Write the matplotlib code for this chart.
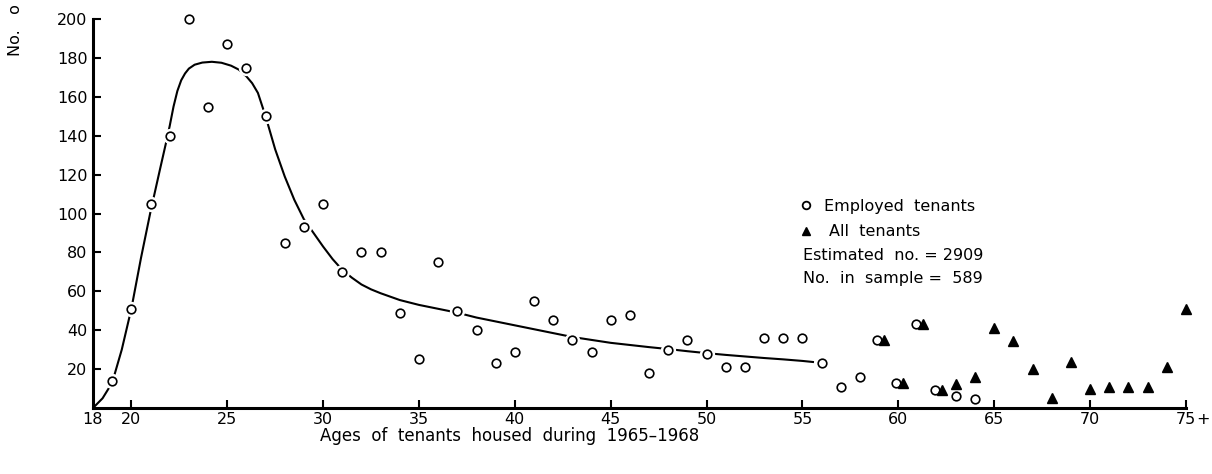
import matplotlib
matplotlib.use("Agg")
import matplotlib.pyplot as plt
from matplotlib.transforms import ScaledTranslation

plt.rcParams['font.family'] = ['DejaVu Sans']

# Employed tenants by age
emp_ages = [19, 20, 21, 22, 23, 24, 25, 26, 27, 28, 29, 30, 31, 32, 33, 34, 35,
            36, 37, 38, 39, 40, 41, 42, 43, 44, 45, 46, 47, 48, 49, 50, 51, 52,
            53, 54, 55, 56, 57, 58, 59, 60, 61, 62, 63, 64]
emp_vals = [14, 51, 105, 140, 200, 155, 187, 175, 150, 85, 93, 105, 70, 80, 80,
            49, 25, 75, 50, 40, 23, 29, 55, 45, 35, 29, 45, 48, 18, 30, 35, 28,
            21, 21, 36, 36, 36, 23, 11, 16, 35, 13, 43, 9, 6, 4.5]

# All tenants, older age groups
all_ages = [59, 60, 61, 62, 63, 64, 65, 66, 67, 68, 69, 70, 71, 72, 73, 74, 75]
all_vals = [35, 13, 43, 9, 12.5, 16, 41, 34.5, 20, 5, 23.5, 10, 11, 11, 11, 21, 51]

# Fitted curve for employed tenants
fit_ages = [18, 18.5, 19, 19.5, 20, 20.5, 21, 21.5, 21.8, 22, 22.2, 22.4, 22.6,
            22.8, 23, 23.3, 23.7, 24.2, 24.7, 25.2, 25.6, 26, 26.3, 26.6, 27,
            27.5, 28, 28.5, 29, 29.5, 30, 30.5, 31, 31.5, 32, 32.5, 33, 34, 35,
            36, 37, 38, 39, 40, 41, 42, 43, 44, 45, 46, 47, 48, 49, 50, 51, 52,
            53, 54, 55, 55.6]
fit_vals = [0, 5, 13, 30, 51, 77, 101, 123, 136, 145, 155, 163, 168.5, 172,
            174.5, 176.5, 177.6, 178, 177.5, 176, 174, 170.5, 167, 162, 150,
            133, 119, 107, 97, 90, 83, 76.5, 71, 67, 63.5, 61, 59, 55.5, 53, 51,
            49, 46.5, 44.5, 42.5, 40.5, 38.5, 36.5, 35, 33.5, 32.4, 31.3, 30.3,
            29.2, 28.2, 27.3, 26.5, 25.7, 25, 24.2, 23.6]

xticks = [18, 20, 25, 30, 35, 40, 45, 50, 55, 60, 65, 70, 75]
yticks = [20, 40, 60, 80, 100, 120, 140, 160, 180, 200]

W, H = 1212, 474
fig = plt.figure(figsize=(W / 100, H / 100), dpi=100)
ax = fig.add_axes([93 / W, 66 / H, 1093 / W, 389 / H])


def fx(px):
    return px / W


def fy(py):
    return 1 - py / H


ax.plot(fit_ages, fit_vals, color='black', lw=1.5, zorder=2,
        solid_capstyle='butt', solid_joinstyle='round')

# Overlapping age groups are nudged apart horizontally
shift_left = ax.transData + ScaledTranslation(-2 / 100, 0, fig.dpi_scale_trans)
shift_right = ax.transData + ScaledTranslation(5 / 100, 0, fig.dpi_scale_trans)

main_a = [a for a in emp_ages if a not in all_ages]
main_v = [v for a, v in zip(emp_ages, emp_vals) if a not in all_ages]
over_a = [a for a in emp_ages if a in all_ages[:4]]
over_v = [v for a, v in zip(emp_ages, emp_vals) if a in all_ages[:4]]
rest_a = [a for a in emp_ages if a in all_ages[4:]]
rest_v = [v for a, v in zip(emp_ages, emp_vals) if a in all_ages[4:]]

groups = [(main_a, main_v, ax.transData), (over_a, over_v, shift_left),
          (rest_a, rest_v, ax.transData)]

# White halos break the curve around each circle
for xs, ys, tr in groups:
    ax.plot(xs, ys, 'o', ms=10, color='white', mec='white', zorder=2.5,
            clip_on=False, transform=tr)
for xs, ys, tr in groups:
    ax.plot(xs, ys, 'o', ms=6.2, mfc='white', mec='black', mew=1.2, zorder=3,
            clip_on=False, transform=tr)

ax.plot(all_ages[:4], all_vals[:4], '^', ms=6.5, color='black', zorder=4,
        clip_on=False, transform=shift_right)
ax.plot(all_ages[4:], all_vals[4:], '^', ms=6.5, color='black', zorder=4,
        clip_on=False)

ax.set_xlim(18, 75)
ax.set_ylim(0, 200)
ax.set_xticks(xticks)
ax.set_xticklabels([str(t) for t in xticks])
ax.set_yticks(yticks)
ax.set_yticklabels([str(t) for t in yticks])

for side in ['top', 'right']:
    ax.spines[side].set_visible(False)
for side in ['left', 'bottom']:
    ax.spines[side].set_linewidth(2.2)
    ax.spines[side].set_zorder(5)
    ax.spines[side].set_capstyle('projecting')

ax.tick_params(axis='both', direction='in', length=6, width=1.5,
               labelsize=11.5, colors='black')
ax.tick_params(axis='x', pad=3)
ax.tick_params(axis='y', pad=4)
ax.xaxis.get_major_ticks()[0].tick1line.set_visible(False)

fig.text(fx(1203), fy(419), '+', fontsize=11.5, ha='center', va='center')

# Axis titles
fig.text(fx(510), fy(436), 'Ages  of  tenants  housed  during  1965–1968',
         fontsize=12, ha='center', va='center')
fig.text(fx(16), fy(56), 'No.   o', fontsize=11.5, rotation=90,
         ha='center', va='bottom')

# Key
fig.lines.append(plt.Line2D([fx(806)], [fy(205)], marker='o', ms=5.5,
                            mfc='white', mec='black', mew=1.3,
                            transform=fig.transFigure))
fig.lines.append(plt.Line2D([fx(806)], [fy(231)], marker='^', ms=6,
                            color='black', transform=fig.transFigure))
fig.text(fx(824), fy(206), 'Employed  tenants', fontsize=11.5, va='center')
fig.text(fx(829), fy(232), 'All  tenants', fontsize=11.5, va='center')
fig.text(fx(803), fy(255), 'Estimated  no. = 2909', fontsize=11.5, va='center')
fig.text(fx(803), fy(278), 'No.  in  sample =  589', fontsize=11.5, va='center')

fig.savefig('out.png', dpi=100)
